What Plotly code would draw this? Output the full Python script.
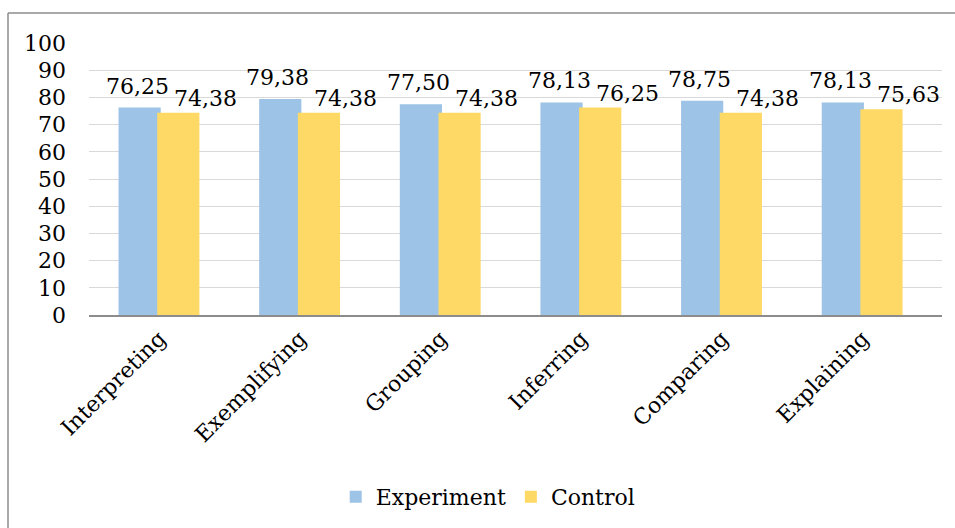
import plotly.graph_objects as go

categories = ["Interpreting", "Exemplifying", "Grouping", "Inferring", "Comparing", "Explaining"]
experiment = [76.25, 79.38, 77.50, 78.13, 78.75, 78.13]
control = [74.38, 74.38, 74.38, 76.25, 74.38, 75.63]
y_ticks = list(range(0, 101, 10))

FONT = "DejaVu Serif"
BLUE = "#9DC3E6"
YELLOW = "#FFD966"


def fmt(v):
    return f"{v:.2f}".replace(".", ",")


fig = go.Figure()
fig.add_trace(go.Bar(
    x=categories, y=experiment, name="Experiment",
    marker=dict(color=BLUE, line=dict(width=0)),
    width=0.3, offset=-0.29,
))
fig.add_trace(go.Bar(
    x=categories, y=control, name="Control",
    marker=dict(color=YELLOW, line=dict(width=0)),
    width=0.3, offset=-0.015,
))

# value labels above the bars
annotations = []
for c, v in zip(categories, experiment):
    annotations.append(dict(
        x=c, y=v, text=fmt(v), showarrow=False, xref="x", yref="y",
        xanchor="center", yanchor="bottom", xshift=-22, yshift=7,
        font=dict(family=FONT, size=22, color="black"),
    ))
for c, v in zip(categories, control):
    annotations.append(dict(
        x=c, y=v, text=fmt(v), showarrow=False, xref="x", yref="y",
        xanchor="center", yanchor="bottom", xshift=46, yshift=0,
        font=dict(family=FONT, size=22, color="black"),
    ))

# chart frame (top and left edges visible)
w_plot = 942 - 89
h_plot = 316 - 43
x_left = (8 - 89) / w_plot
y_top = 1 + (43 - 13) / h_plot
shapes = [
    dict(type="line", xref="paper", yref="paper", x0=x_left, x1=1.2, y0=y_top, y1=y_top,
         line=dict(color="#8C8C8C", width=1.5)),
    dict(type="line", xref="paper", yref="paper", x0=x_left, x1=x_left, y0=y_top, y1=-1.0,
         line=dict(color="#8C8C8C", width=1.5)),
]

fig.update_layout(
    width=955, height=528,
    margin=dict(l=89, r=13, t=43, b=212),
    paper_bgcolor="white", plot_bgcolor="white",
    barmode="overlay",
    font=dict(family=FONT, size=22, color="black"),
    showlegend=True,
    legend=dict(
        orientation="h", x=0.468, xanchor="center", y=-0.663, yanchor="middle",
        font=dict(family=FONT, size=22, color="black"),
        itemwidth=30, tracegroupgap=0,
    ),
    annotations=annotations,
    shapes=shapes,
)
fig.update_xaxes(
    type="category", showgrid=False, showline=True, linecolor="#8C8C8C", linewidth=1.5,
    tickangle=-45, ticks="", tickfont=dict(family=FONT, size=22, color="black"),
)
fig.update_yaxes(
    range=[0, 100], tickvals=y_ticks, showgrid=True, gridcolor="#D9D9D9", gridwidth=1.2,
    zeroline=False, showline=False, ticks="", ticklabelstandoff=22,
    tickfont=dict(family=FONT, size=22, color="black"),
)

fig.write_html("out.html")
